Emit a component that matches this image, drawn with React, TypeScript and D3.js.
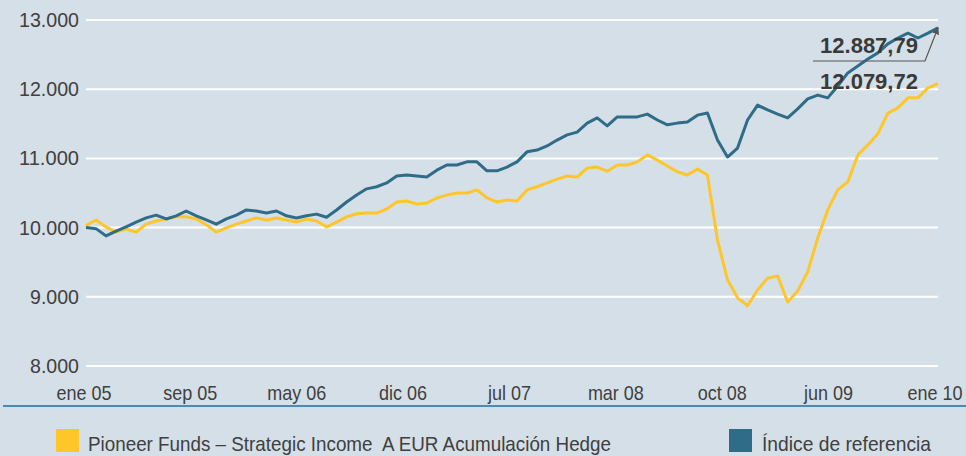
import * as d3 from "d3";

// valores (aprox. cada 3 semanas, ene 05 - ene 10)
const fondo = [
  10030, 10110, 10010, 9935, 9980, 9935, 10050, 10095, 10125, 10155,
  10155, 10125, 10040, 9935, 9995, 10050, 10095, 10140, 10110, 10140,
  10110, 10080, 10125, 10095, 10010, 10080, 10155, 10200, 10210, 10210,
  10270, 10370, 10385, 10340, 10355, 10430, 10470, 10500, 10500, 10545,
  10430, 10370, 10400, 10385, 10545, 10590, 10645, 10700, 10745, 10730,
  10860, 10875, 10815, 10905, 10905, 10950, 11050, 10975, 10890, 10805,
  10760, 10845, 10760, 9820, 9245, 8985, 8870, 9100, 9270, 9300,
  8925, 9085, 9360, 9850, 10255, 10545, 10660, 11050, 11195, 11355,
  11655, 11730, 11875, 11875, 12020, 12079.72,
];

const indice = [
  10000, 9985, 9880, 9950, 10010, 10080, 10140, 10180, 10125, 10170,
  10240, 10170, 10110, 10050, 10125, 10180, 10255, 10240, 10210, 10240,
  10170, 10140, 10170, 10195, 10150, 10255, 10370, 10470, 10560, 10590,
  10645, 10745, 10760, 10745, 10730, 10830, 10905, 10905, 10950, 10950,
  10820, 10820, 10875, 10950, 11095, 11120, 11180, 11265, 11340, 11380,
  11510, 11585, 11470, 11600, 11600, 11600, 11640, 11555, 11485, 11510,
  11525, 11625, 11655, 11265, 11020, 11150, 11555, 11770, 11700, 11640,
  11585, 11715, 11860, 11915, 11875, 12045, 12235, 12335, 12435, 12525,
  12655, 12740, 12810, 12740, 12810, 12887.79,
];

const xLabels = ["ene 05", "sep 05", "may 06", "dic 06", "jul 07", "mar 08", "oct 08", "jun 09", "ene 10"];
const yTicks = [8000, 9000, 10000, 11000, 12000, 13000];
const legend = ["Pioneer Funds – Strategic Income  A EUR Acumulación Hedge", "Índice de referencia"];

const W = 966, H = 456;
const BG = "#d5dfe7";
const AMARILLO = "#ffc62a";
const AZUL = "#2f6c88";
const TEXTO = "#404040";
const FONT = "'Liberation Sans', Arial, sans-serif";

const fmt = (v: number) => d3.format(",")(v).replace(/,/g, ".");
const fmtDec = (v: number) => {
  const [a, b] = v.toFixed(2).split(".");
  return fmt(+a) + "," + b;
};

export default function App() {
  const x = d3.scaleLinear().domain([0, fondo.length - 1]).range([86, 938]);
  const y = d3.scaleLinear().domain([8000, 13000]).range([366, 20]);
  const labelX = d3.scalePoint<string>().domain(xLabels).range([84, 935]);

  const line = d3
    .line<number>()
    .x((_, i) => x(i))
    .y((d) => y(d));

  const lastI = indice.length - 1;
  const ex = x(lastI);
  const eyB = y(indice[lastI]);

  return (
    <svg
      width={W}
      height={H}
      style={{ position: "absolute", left: 0, top: 0, display: "block" }}
      fontFamily={FONT}
    >
      <rect width={W} height={H} fill={BG} />

      {/* rejilla */}
      {yTicks.map((t) => (
        <g key={t}>
          <line x1={86} x2={938} y1={y(t)} y2={y(t)} stroke="#fff" strokeWidth={2} />
          <text x={79} y={y(t) + 7} textAnchor="end" fontSize={20} textLength={t >= 10000 ? 60 : 49} lengthAdjust="spacingAndGlyphs" fill={TEXTO}>
            {fmt(t)}
          </text>
        </g>
      ))}

      {xLabels.map((l) => (
        <text key={l} x={labelX(l)} y={400} textAnchor="middle" fontSize={20} fill={TEXTO}
          style={{ transformBox: "fill-box", transformOrigin: "center", transform: "scaleX(0.9)" }}>
          {l}
        </text>
      ))}

      <line x1={3} x2={W} y1={406} y2={406} stroke="#1f6ea8" strokeWidth={1.5} />

      {/* series */}
      <path d={line(fondo) || ""} fill="none" stroke={AMARILLO} strokeWidth={3} strokeLinejoin="round" />
      <path d={line(indice) || ""} fill="none" stroke={AZUL} strokeWidth={3} strokeLinejoin="round" />

      {/* anotaciones */}
      <defs>
        <marker id="flecha" viewBox="0 0 10 10" refX={9} refY={5} markerWidth={6} markerHeight={6} orient="auto">
          <path d="M0,0 L10,5 L0,10 z" fill="#555" />
        </marker>
      </defs>
      <polyline
        points={`813,61 925,61 ${ex},${eyB}`}
        fill="none"
        stroke="#555"
        strokeWidth={1.2}
        markerEnd="url(#flecha)"
      />
      <text x={869} y={53} textAnchor="middle" fontSize={22} fontWeight="bold" fill="#3a3a3a">
        {fmtDec(indice[lastI])}
      </text>
      <text x={869} y={89} textAnchor="middle" fontSize={22} fontWeight="bold" fill="#3a3a3a">
        {fmtDec(fondo[lastI])}
      </text>

      {/* leyenda */}
      <rect x={56} y={429} width={23} height={23} fill={AMARILLO} />
      <text x={88} y={451} fontSize={21} fill={TEXTO} xmlSpace="preserve" style={{ whiteSpace: "pre" }}
        textLength={523} lengthAdjust="spacingAndGlyphs">
        {legend[0]}
      </text>
      <rect x={729} y={429} width={23} height={23} fill={AZUL} />
      <text x={762} y={451} fontSize={21} fill={TEXTO} textLength={169} lengthAdjust="spacingAndGlyphs">
        {legend[1]}
      </text>
    </svg>
  );
}
